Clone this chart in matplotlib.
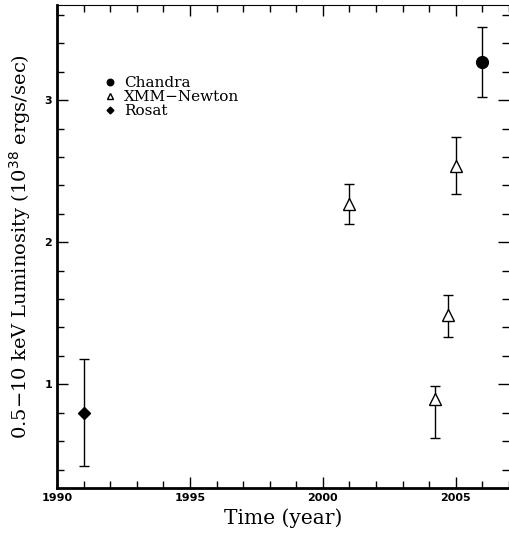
import matplotlib.pyplot as plt
from matplotlib.ticker import MultipleLocator

# Datos
chandra_t = [2006.0]
chandra_l = [3.27]
chandra_lo = [0.245]
chandra_hi = [0.245]

xmm_t = [2001.0, 2004.2, 2004.7, 2005.0]
xmm_l = [2.27, 0.90, 1.49, 2.54]
xmm_lo = [0.14, 0.28, 0.16, 0.20]
xmm_hi = [0.14, 0.09, 0.14, 0.20]

rosat_t = [1991.0]
rosat_l = [0.80]
rosat_lo = [0.375]
rosat_hi = [0.375]

fig = plt.figure(figsize=(5.09, 5.39), dpi=100)
ax = fig.add_axes([57 / 509, 1 - 488 / 539, 452 / 509, 483 / 539])

eb = dict(ecolor='black', elinewidth=1.0, capsize=3.4, capthick=1.0, linestyle='none')
c1 = ax.errorbar(chandra_t, chandra_l, yerr=[chandra_lo, chandra_hi], marker='o',
                 ms=8.5, mfc='black', mec='black', label='Chandra', **eb)
c2 = ax.errorbar(xmm_t, xmm_l, yerr=[xmm_lo, xmm_hi], marker='^',
                 ms=8, mfc='white', mec='black', mew=1.0, label='XMM\u2212Newton', **eb)
c3 = ax.errorbar(rosat_t, rosat_l, yerr=[rosat_lo, rosat_hi], marker='D',
                 ms=6.3, mfc='black', mec='black', label='Rosat', **eb)

ax.set_xlim(1990, 2007)
ax.set_ylim(0.27, 3.67)
ax.xaxis.set_major_locator(MultipleLocator(5))
ax.xaxis.set_minor_locator(MultipleLocator(1))
ax.yaxis.set_major_locator(MultipleLocator(1))
ax.yaxis.set_minor_locator(MultipleLocator(0.2))
ax.tick_params(which='both', direction='in', top=True, right=True, labelsize=8)
ax.tick_params(which='major', length=8, width=1)
ax.tick_params(which='minor', length=5, width=1)
for lab in ax.get_xticklabels() + ax.get_yticklabels():
    lab.set_fontweight('bold')
ax.spines['bottom'].set_linewidth(2)
ax.spines['left'].set_linewidth(2)
ax.spines['right'].set_visible(False)

ax.set_xlabel('Time (year)', family='DejaVu Serif', fontsize=14.5)
ax.set_ylabel('0.5\u221210 keV Luminosity (10$^{38}$ ergs/sec)', family='DejaVu Serif',
              fontsize=14, labelpad=8)

# leyenda solo con los marcadores (sin barras de error)
handles = [c1.lines[0], c2.lines[0], c3.lines[0]]
ax.legend(handles=handles, labels=['Chandra', 'XMM\u2212Newton', 'Rosat'],
          loc='upper left', bbox_to_anchor=(0.107, 0.853), frameon=False,
          prop={'family': 'DejaVu Serif', 'size': 11}, handlelength=0.6,
          handletextpad=0.6, labelspacing=0.0, markerscale=0.55,
          borderaxespad=0, borderpad=0)

fig.savefig('out.png', dpi=100)
